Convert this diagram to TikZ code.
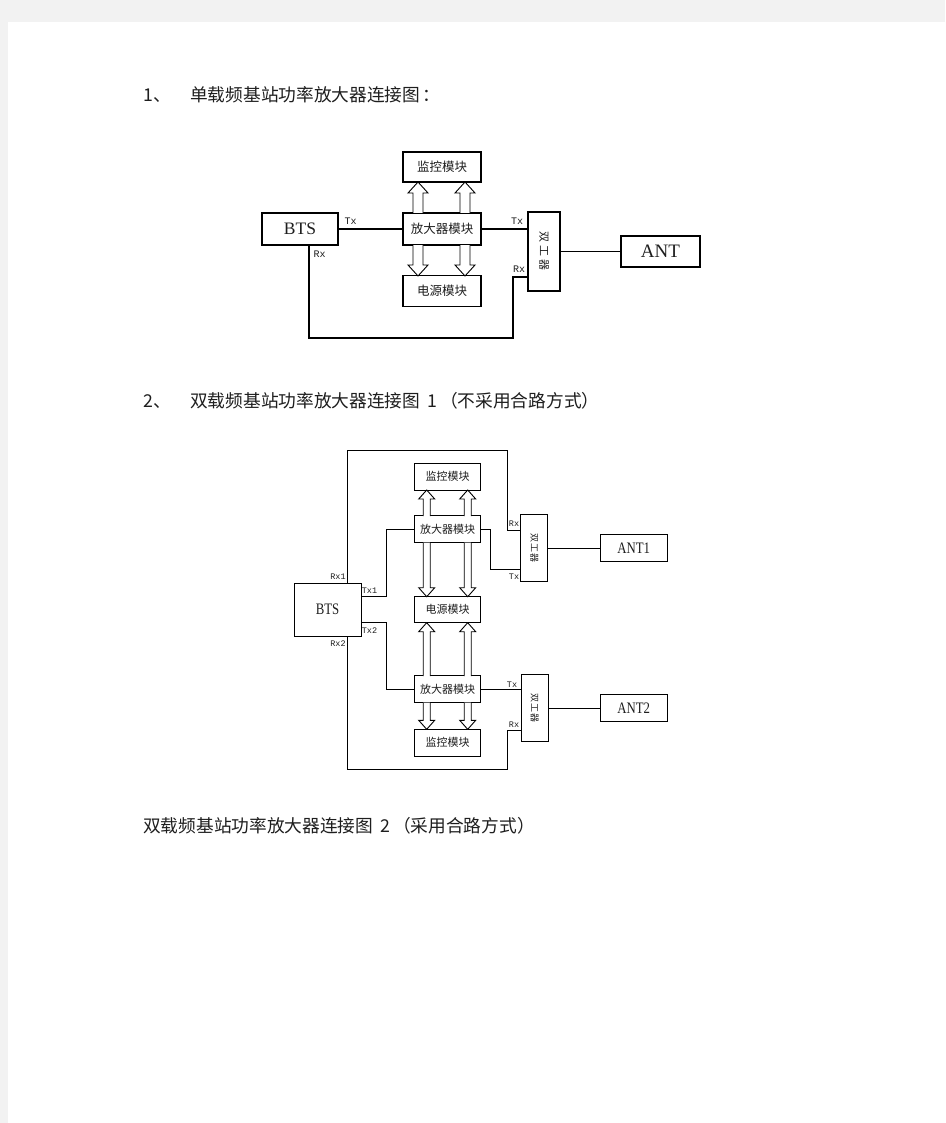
\documentclass[tikz,border=0pt]{standalone}
\usepackage{fontspec}
\newfontfamily\cjk{Noto Sans CJK SC}
\newfontfamily\lser{Liberation Serif}
\newfontfamily\lcond[FakeStretch=0.8]{Liberation Serif}
\newfontfamily\lmono{Liberation Mono}
\definecolor{pagebg}{RGB}{242,242,242}
\definecolor{ink}{RGB}{30,30,30}
\newcommand\hup[6]{\draw[harr] ({#1-#4},#2) -- ({#1-#4},{#3+#6}) -- ({#1-#5},{#3+#6}) -- (#1,#3) -- ({#1+#5},{#3+#6}) -- ({#1+#4},{#3+#6}) -- ({#1+#4},#2);}
\newcommand\hdown[6]{\draw[harr] ({#1-#4},#2) -- ({#1-#4},{#3-#6}) -- ({#1-#5},{#3-#6}) -- (#1,#3) -- ({#1+#5},{#3-#6}) -- ({#1+#4},{#3-#6}) -- ({#1+#4},#2);}
\begin{document}
\begin{tikzpicture}[x=1pt,y=-1pt,
  head/.style={font=\cjk\fontsize{17.7}{20}\selectfont, text=ink, inner sep=0, anchor=base west},
  boxa/.style={draw, line width=1.1pt, fill=white, inner sep=0, text=ink, font=\cjk\fontsize{12.5}{14}\selectfont},
  boxb/.style={draw, line width=0.9pt, fill=white, inner sep=0, text=ink, font=\cjk\fontsize{11}{12}\selectfont},
  lbla/.style={font=\lmono\fontsize{10}{11}\selectfont, inner sep=0, text=ink},
  lblb/.style={font=\lmono\fontsize{8.5}{9}\selectfont, inner sep=0, text=ink},
  wirea/.style={line width=1.1pt},
  wireb/.style={line width=0.9pt},
  harr/.style={draw, fill=white, line width=0.9pt}
]
\useasboundingbox (0,0) rectangle (945,1123);
\fill[pagebg] (0,0) rectangle (945,1123);
\fill[white] (8,22) rectangle (945,1123);

% headings
\node[head] (h1n) at (143,102) {1、};
\node[head] (h1) at (190,102) {单载频基站功率放大器连接图\hspace{2pt}：};
\node[head] (h2n) at (143,407) {2、};
\node[head] (h2) at (190,407) {双载频基站功率放大器连接图\hspace{7pt}1\hspace{3pt}（不采用合路方式）};
\node[head] (h3) at (143,832) {双载频基站功率放大器连接图\hspace{7pt}2\hspace{3pt}（采用合路方式）};

% ---------- diagram 1 ----------
\node[boxa, minimum width=78pt, minimum height=30pt] (mon1) at (442,167) {监控模块};
\node[boxa, minimum width=78pt, minimum height=32pt] (amp1) at (442,229) {放大器模块};
\node[boxa, minimum width=78pt, minimum height=31pt] (pwr1) at (442,291) {电源模块};
\node[boxa, minimum width=76pt, minimum height=32pt, font=\lser\fontsize{17.5}{18}\selectfont] (bts1) at (300,229) {BTS};
\node[boxa, minimum width=32pt, minimum height=79pt] (dup1) at (544,251.5) {};
\node[rotate=-90, inner sep=0, text=ink, font=\cjk\fontsize{11}{12}\selectfont] (dup1t) at (dup1) {双\hspace{3pt}工\hspace{3pt}器};
\node[boxa, minimum width=79pt, minimum height=31pt, font=\lser\fontsize{19}{20}\selectfont] (ant1) at (660.5,251.5) {ANT};

\draw[wirea] (bts1.east) -- (amp1.west);
\draw[wirea] (amp1.east) -- (amp1.east -| dup1.west);
\draw[wirea] (dup1.east) -- (ant1.west);
\coordinate (r1a) at (309,338);
\coordinate (r1b) at (513,338);
\coordinate (r1c) at (513,277);
\draw[wirea] (r1a |- bts1.south) -- (r1a) -- (r1b) -- (r1c) -- (r1c -| dup1.west);

\hup{418}{213}{182}{5}{10}{11}
\hup{465}{213}{182}{5}{10}{11}
\hdown{418}{245}{276}{5}{10}{11}
\hdown{465}{245}{276}{5}{10}{11}

\node[lbla] (l1) at (350.5,221.5) {Tx};
\node[lbla] (l2) at (319.5,254) {Rx};
\node[lbla] (l3) at (517,221.5) {Tx};
\node[lbla] (l4) at (519,269) {Rx};

% ---------- diagram 2 ----------
\node[boxb, minimum width=66pt, minimum height=27pt] (monA) at (447.5,476.7) {监控模块};
\node[boxb, minimum width=66pt, minimum height=27pt] (ampA) at (447.5,529.3) {放大器模块};
\node[boxb, minimum width=66pt, minimum height=26pt] (pwr2) at (447.5,609.7) {电源模块};
\node[boxb, minimum width=66pt, minimum height=27pt] (ampB) at (447.5,689.3) {放大器模块};
\node[boxb, minimum width=66pt, minimum height=27pt] (monB) at (447.5,742.7) {监控模块};
\node[boxb, minimum width=67pt, minimum height=53pt, font=\lcond\fontsize{16}{17}\selectfont] (bts2) at (327.5,609.7) {BTS};
\node[boxb, minimum width=27pt, minimum height=67pt] (dupA) at (534.2,548.3) {};
\node[boxb, minimum width=27pt, minimum height=67pt] (dupB) at (534.5,708.3) {};
\node[rotate=-90, inner sep=0, text=ink, font=\cjk\fontsize{9}{10}\selectfont] (dupAt) at (dupA) {双\hspace{1pt}工\hspace{1pt}器};
\node[rotate=-90, inner sep=0, text=ink, font=\cjk\fontsize{9}{10}\selectfont] (dupBt) at (dupB) {双\hspace{1pt}工\hspace{1pt}器};
\node[boxb, minimum width=67pt, minimum height=27pt, font=\lcond\fontsize{16}{17}\selectfont] (antA) at (633.7,548.3) {ANT1};
\node[boxb, minimum width=67pt, minimum height=27pt, font=\lcond\fontsize{16}{17}\selectfont] (antB) at (633.7,708.3) {ANT2};

% Rx1 loop
\coordinate (a1) at (347.7,450);
\coordinate (a2) at (507.7,450);
\coordinate (a3) at (507.7,530);
\draw[wireb] (a1 |- bts2.north) -- (a1) -- (a2) -- (a3) -- (a3 -| dupA.west);
% Rx2 loop
\coordinate (b1) at (347.7,769.3);
\coordinate (b2) at (507.7,769.3);
\coordinate (b3) at (507.7,730);
\draw[wireb] (b1 |- bts2.south) -- (b1) -- (b2) -- (b3) -- (b3 -| dupB.west);
% Tx1
\coordinate (t1a) at (386.7,596.7);
\draw[wireb] (t1a -| bts2.east) -- (t1a) -- (t1a |- ampA.west) -- (ampA.west);
% Tx2
\coordinate (t2a) at (386.7,622.7);
\draw[wireb] (t2a -| bts2.east) -- (t2a) -- (t2a |- ampB.west) -- (ampB.west);
% amp A to duplexer A
\coordinate (u1) at (490.7,569.3);
\draw[wireb] (ampA.east) -- (ampA.east -| u1) -- (u1) -- (u1 -| dupA.west);
% amp B to duplexer B
\draw[wireb] (ampB.east) -- (ampB.east -| dupB.west);
% duplexers to antennas
\draw[wireb] (dupA.east) -- (antA.west);
\draw[wireb] (dupB.east) -- (antB.west);

\hup{426.7}{516}{490}{3.5}{8}{9}
\hup{467.7}{516}{490}{3.5}{8}{9}
\hdown{426.7}{542.7}{596.7}{3.5}{8}{9}
\hdown{467.7}{542.7}{596.7}{3.5}{8}{9}
\hup{426.7}{676}{622.7}{3.5}{8}{9}
\hup{467.7}{676}{622.7}{3.5}{8}{9}
\hdown{426.7}{702.7}{729.3}{3.5}{8}{9}
\hdown{467.7}{702.7}{729.3}{3.5}{8}{9}

\node[lblb] (m1) at (338,576.5) {Rx1};
\node[lblb] (m2) at (369.5,590.5) {Tx1};
\node[lblb] (m3) at (369.5,630.7) {Tx2};
\node[lblb] (m4) at (338,643.3) {Rx2};
\node[lblb] (m5) at (514,523.5) {Rx};
\node[lblb] (m6) at (514,576.7) {Tx};
\node[lblb] (m7) at (512,684.3) {Tx};
\node[lblb] (m8) at (514,724.7) {Rx};
\end{tikzpicture}
\end{document}
